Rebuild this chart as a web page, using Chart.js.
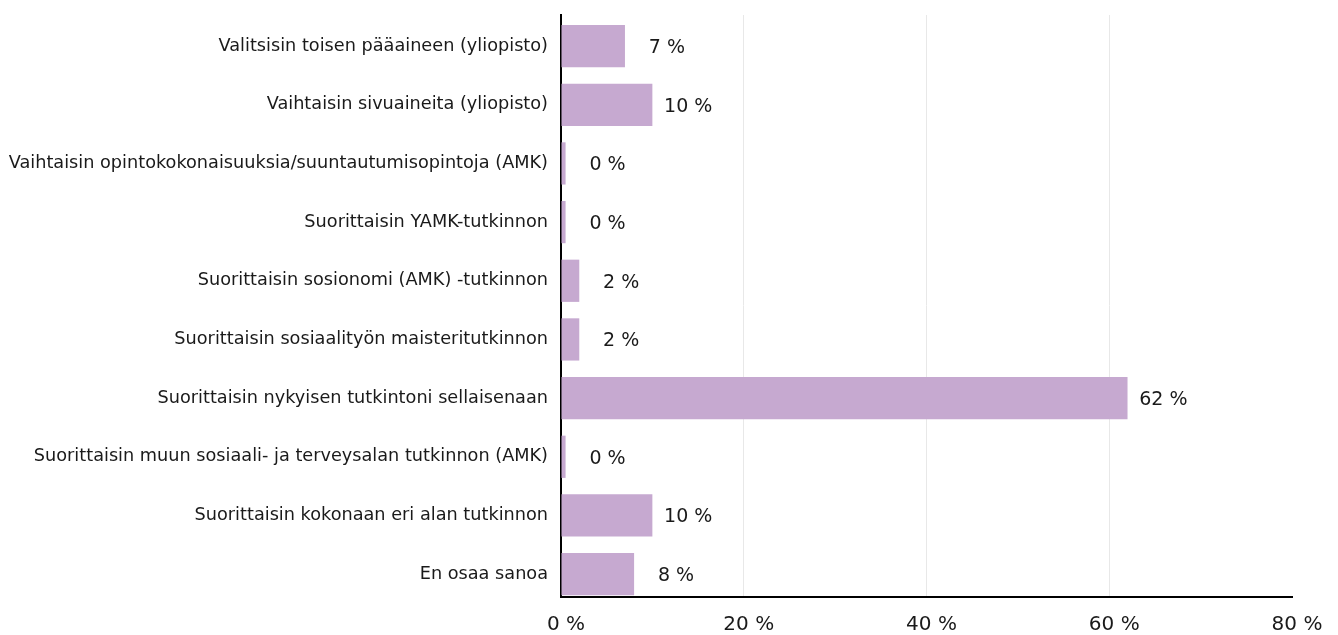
<!DOCTYPE html>
<html>
<head>
<meta charset="utf-8">
<script src="https://cdn.jsdelivr.net/npm/chart.js@4.4.1/dist/chart.umd.min.js"></script>
<style>
html,body{margin:0;padding:0;background:#fff;}
#wrap{width:1338px;height:635px;position:relative;}
</style>
</head>
<body>
<div id="wrap"><canvas id="c"></canvas></div>
<script>
const categories = [
  "Valitsisin toisen pääaineen (yliopisto)",
  "Vaihtaisin sivuaineita (yliopisto)",
  "Vaihtaisin opintokokonaisuuksia/suuntautumisopintoja (AMK)",
  "Suorittaisin YAMK-tutkinnon",
  "Suorittaisin sosionomi (AMK) -tutkinnon",
  "Suorittaisin sosiaalityön maisteritutkinnon",
  "Suorittaisin nykyisen tutkintoni sellaisenaan",
  "Suorittaisin muun sosiaali- ja terveysalan tutkinnon (AMK)",
  "Suorittaisin kokonaan eri alan tutkinnon",
  "En osaa sanoa"
];
const values = [7, 10, 0.5, 0.5, 2, 2, 62, 0.5, 10, 8];
const valueLabels = ["7 %", "10 %", "0 %", "0 %", "2 %", "2 %", "62 %", "0 %", "10 %", "8 %"];
const xTicks = [0, 20, 40, 60, 80];

const FONT = "'DejaVu Sans', sans-serif";

const labelPlugin = {
  id: 'valueLabels',
  afterDatasetsDraw(chart) {
    const ctx = chart.ctx;
    const meta = chart.getDatasetMeta(0);
    ctx.save();
    ctx.font = "19px " + FONT;
    ctx.fillStyle = "#1a1a1a";
    ctx.textAlign = "right";
    ctx.textBaseline = "middle";
    meta.data.forEach((bar, i) => {
      ctx.fillText(valueLabels[i], bar.x + 60, bar.y + 2);
    });
    ctx.restore();
  }
};

new Chart(document.getElementById('c'), {
  type: 'bar',
  data: {
    datasets: [{
      data: values.map((v, i) => ({x: v, y: i})),
      backgroundColor: '#c6a9d0',
      borderWidth: 0,
      categoryPercentage: 1,
      barPercentage: 0.72
    }]
  },
  plugins: [labelPlugin],
  options: {
    indexAxis: 'y',
    responsive: true,
    maintainAspectRatio: false,
    animation: false,
    layout: { padding: { top: 15, left: 8, right: 46, bottom: 0 } },
    plugins: { legend: { display: false }, tooltip: { enabled: false } },
    scales: {
      y: {
        type: 'linear',
        reverse: true,
        bounds: 'data',
        offset: false,
        min: -0.53,
        max: 9.39,
        afterFit(s) { s.width = 553; s.paddingTop = 0; s.paddingBottom = 0; },
        afterBuildTicks(s) { s.ticks = categories.map((c, i) => ({value: i})); },
        ticks: {
          stepSize: 1,
          autoSkip: false,
          padding: 13,
          color: '#1a1a1a',
          font: { family: FONT, size: 17.7 },
          callback: (v) => categories[v] !== undefined ? categories[v] : ''
        },
        grid: { display: false, drawTicks: false, offset: false },
        border: { display: true, color: '#000', width: 2 }
      },
      x: {
        type: 'linear',
        min: 0,
        max: 80,
        afterFit(s) { s.height = 38; },
        afterBuildTicks(s) { s.ticks = xTicks.map(v => ({value: v})); },
        ticks: {
          padding: 16,
          labelOffset: 5,
          color: '#1a1a1a',
          font: { family: FONT, size: 20 },
          callback: (v) => v + ' %'
        },
        grid: {
          drawTicks: false,
          color: (c) => (c.tick && (c.tick.value === 0 || c.tick.value === 80)) ? 'rgba(0,0,0,0)' : '#e8e8e8',
          lineWidth: 1
        },
        border: { display: true, color: '#000', width: 2 }
      }
    }
  }
});
</script>
</body>
</html>
